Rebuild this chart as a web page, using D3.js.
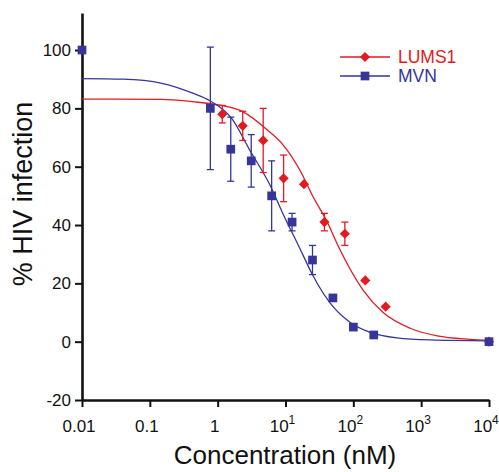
<!DOCTYPE html>
<html>
<head>
<meta charset="utf-8">
<script src="https://cdn.jsdelivr.net/npm/d3@7"></script>
<style>
  html, body { margin: 0; padding: 0; background: #fff; }
  svg { display: block; font-family: Arial, "Liberation Sans", Helvetica, sans-serif; }
</style>
</head>
<body>
<script>
// Dose-response data: % HIV infection versus concentration (nM)
const lumsConc  = [1.17, 2.34, 4.69, 9.38, 18.75, 37.5, 75, 150, 300, 10000];
const lumsValue = [78, 74, 69, 56, 54, 41, 37, 21, 12, 0];
const lumsError = [3, 5, 11, 8, 0, 3, 4, 0, 0, 0];

const mvnConc  = [0.01, 0.78, 1.56, 3.125, 6.25, 12.5, 25, 50, 100, 200, 10000];
const mvnValue = [100, 80, 66, 62, 50, 41, 28, 15, 5, 2.3, 0];
const mvnError = [0, 21, 11, 9, 12, 3, 5, 0, 0, 0, 0];

// Fitted curves, sampled along the concentration axis
const lumsFitConc  = [0.01, 0.15, 0.42, 1.08, 2.37, 5.4, 9.2, 16.4, 25.5, 41, 60, 139, 275, 690, 1720, 5250, 10000];
const lumsFitValue = [83.2, 83.1, 82.3, 81.1, 78.8, 72.6, 67.5, 58.7, 49.7, 41.1, 32.7, 17.7, 10.0, 4.6, 2.0, 0.8, 0.4];
const mvnFitConc   = [0.01, 0.04, 0.15, 0.42, 0.77, 1.63, 3.0, 5.9, 9.2, 15.5, 25.6, 30, 45, 90, 177, 440, 1360, 10000];
const mvnFitValue  = [90.2, 90.0, 88.6, 85.3, 82.6, 76.4, 65.5, 53.7, 43.8, 33.0, 22.5, 19.6, 13.4, 6.6, 3.2, 1.3, 0.6, 0.3];

const xTickValues = [0.01, 0.1, 1, 10, 100, 1000, 10000];
const xTickBase   = ["0.01", "0.1", "1", "10", "10", "10", "10"];
const xTickExp    = ["", "", "", "1", "2", "3", "4"];
const yTickValues = [-20, 0, 20, 40, 60, 80, 100];

const seriesNames = ["LUMS1", "MVN"];
const red = "#e01b22";
const blue = "#35359b";

const W = 499, H = 472;
const svg = d3.select("body").append("svg").attr("width", W).attr("height", H);

const x = d3.scaleLog().domain([0.01, 10000]).range([82, 489]);
const y = d3.scaleLinear().domain([-20, 112.7]).range([400, 13]);

// Axes
const yAxis = svg.append("g").attr("transform", "translate(82,0)")
  .call(d3.axisLeft(y).tickValues(yTickValues).tickSize(7).tickPadding(4)
    .tickFormat(d => String(d)).tickSizeOuter(0));
const xAxis = svg.append("g").attr("transform", "translate(0,400)")
  .call(d3.axisBottom(x).tickValues(xTickValues).tickSize(7).tickFormat("").tickSizeOuter(0));

[yAxis, xAxis].forEach(g => {
  g.select(".domain").attr("stroke", "#111").attr("stroke-width", 2.6);
  g.selectAll(".tick line").attr("stroke", "#111").attr("stroke-width", 2);
});
yAxis.selectAll(".tick text").attr("font-size", 17).attr("fill", "#111")
  .attr("font-family", "Arial, 'Liberation Sans', Helvetica, sans-serif");

// x tick labels with superscript exponents
const xl = svg.append("g").attr("fill", "#111");
xTickValues.forEach((v, i) => {
  const t = xl.append("text")
    .attr("x", x(v) - 3).attr("y", 432)
    .attr("text-anchor", "middle")
    .attr("font-size", 17);
  t.append("tspan").text(xTickBase[i]);
  if (xTickExp[i]) {
    t.append("tspan").attr("font-size", 12).attr("dy", -8).text(xTickExp[i]);
  }
});

// Axis titles
svg.append("text").attr("x", 285).attr("y", 464).attr("text-anchor", "middle")
  .attr("font-size", 26).attr("fill", "#111").text("Concentration (nM)");
svg.append("text").attr("transform", "translate(32,194) rotate(-90)").attr("text-anchor", "middle")
  .attr("font-size", 27).attr("fill", "#111").text("% HIV infection");

// Fitted curves
const line = d3.line().x(d => x(d[0])).y(d => y(d[1])).curve(d3.curveMonotoneX);
svg.append("path").datum(d3.zip(lumsFitConc, lumsFitValue))
  .attr("d", line).attr("fill", "none").attr("stroke", red).attr("stroke-width", 1.3);
svg.append("path").datum(d3.zip(mvnFitConc, mvnFitValue))
  .attr("d", line).attr("fill", "none").attr("stroke", blue).attr("stroke-width", 1.3);

// Error bars
function errorBars(conc, vals, errs, color) {
  const g = svg.append("g").attr("stroke", color).attr("stroke-width", 1.3);
  conc.forEach((c, i) => {
    if (!errs[i]) return;
    const cx = x(c), top = y(vals[i] + errs[i]), bot = y(vals[i] - errs[i]);
    g.append("line").attr("x1", cx).attr("x2", cx).attr("y1", top).attr("y2", bot);
    g.append("line").attr("x1", cx - 3.5).attr("x2", cx + 3.5).attr("y1", top).attr("y2", top);
    g.append("line").attr("x1", cx - 3.5).attr("x2", cx + 3.5).attr("y1", bot).attr("y2", bot);
  });
}
errorBars(lumsConc, lumsValue, lumsError, red);
errorBars(mvnConc, mvnValue, mvnError, blue);

// Markers
const diamond = d3.symbol().type(d3.symbolDiamond2).size(66);
const square = d3.symbol().type(d3.symbolSquare).size(76);
svg.append("g").selectAll("path").data(d3.zip(lumsConc, lumsValue)).join("path")
  .attr("d", diamond).attr("transform", d => `translate(${x(d[0])},${y(d[1])})`)
  .attr("fill", red);
svg.append("g").selectAll("path").data(d3.zip(mvnConc, mvnValue)).join("path")
  .attr("d", square).attr("transform", d => `translate(${x(d[0])},${y(d[1])})`)
  .attr("fill", blue);

// Legend
const legend = svg.append("g");
[[red, diamond, 57], [blue, square, 76]].forEach(([col, sym, ly], i) => {
  legend.append("line").attr("x1", 340).attr("x2", 390).attr("y1", ly).attr("y2", ly)
    .attr("stroke", col).attr("stroke-width", 1.3);
  legend.append("path").attr("d", sym).attr("transform", `translate(365,${ly})`).attr("fill", col);
  legend.append("text").attr("x", 398).attr("y", ly + 6).attr("font-size", 17.5)
    .attr("fill", col).text(seriesNames[i]);
});
</script>
</body>
</html>
